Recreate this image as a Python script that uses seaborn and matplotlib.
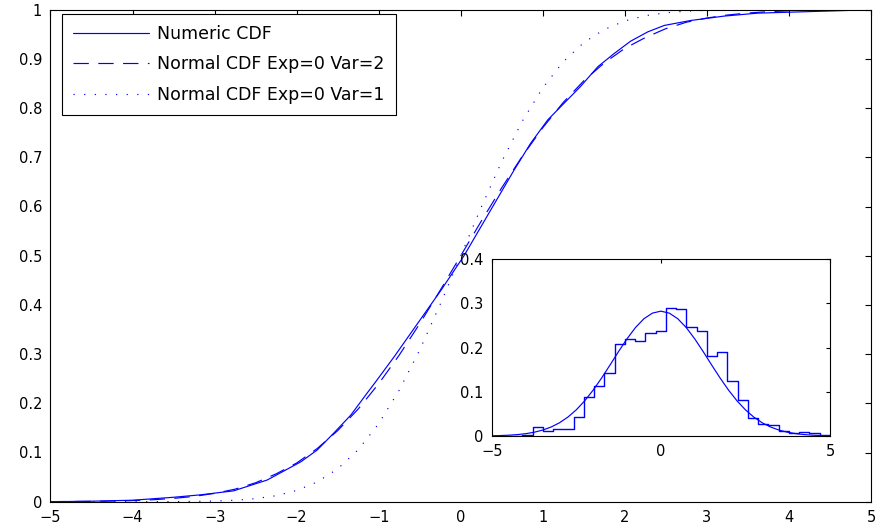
import numpy as np
import pandas as pd
import matplotlib
matplotlib.use("Agg")
import matplotlib.pyplot as plt
from matplotlib.ticker import FuncFormatter
import seaborn as sns

# x grid for the tabulated curves
x_grid = np.arange(-5, 5.001, 0.25)

# Normal CDF, Exp=0 Var=2
cdf_var2 = [0.0002, 0.0004, 0.0007, 0.0013, 0.0023, 0.0040, 0.0067, 0.0108, 0.0169, 0.0255,
            0.0385, 0.0566, 0.0786, 0.1080, 0.1444, 0.1883, 0.2398, 0.2979, 0.3618, 0.4298,
            0.5,
            0.5702, 0.6382, 0.7021, 0.7602, 0.8117, 0.8556, 0.8920, 0.9214, 0.9434, 0.9615,
            0.9745, 0.9831, 0.9892, 0.9933, 0.9960, 0.9977, 0.9987, 0.9993, 0.9996, 0.9998]

# Normal CDF, Exp=0 Var=1
cdf_var1 = [0.0, 0.0, 0.0, 0.0, 0.0, 0.0001, 0.0002, 0.0006, 0.0013, 0.0030,
            0.0062, 0.0122, 0.0228, 0.0401, 0.0668, 0.1056, 0.1587, 0.2266, 0.3085, 0.4013,
            0.5,
            0.5987, 0.6915, 0.7734, 0.8413, 0.8944, 0.9332, 0.9599, 0.9772, 0.9878, 0.9938,
            0.9970, 0.9987, 0.9994, 0.9998, 0.9999, 1.0, 1.0, 1.0, 1.0, 1.0]

num_x = [-5, -4.5, -4, -3.5, -3.17, -2.77, -2.36, -1.95, -1.75, -1.55, -1.34, -1.14, -1.04,
         -0.81, -0.24, 0.04, 0.45, 0.65, 0.85, 1.06, 1.26, 1.46, 1.67, 1.87, 2.07, 2.28,
         2.48, 2.8, 3.21, 3.62, 4.02, 4.63, 5]
num_cdf = [0, 0.001, 0.003, 0.009, 0.014, 0.022, 0.044, 0.081, 0.105, 0.139, 0.176, 0.221,
           0.243, 0.295, 0.430, 0.50, 0.617, 0.674, 0.728, 0.776, 0.810, 0.844, 0.884, 0.911,
           0.936, 0.955, 0.968, 0.978, 0.987, 0.993, 0.995, 0.998, 1.0]

# inset: histogram (density) of the sample, 33 bins on [-5, 5]
hist_heights = [0.0, 0.0, 0.001, 0.003, 0.021, 0.012, 0.015, 0.016, 0.043, 0.089, 0.114,
                0.143, 0.207, 0.220, 0.214, 0.232, 0.238, 0.290, 0.287, 0.247, 0.237, 0.180,
                0.190, 0.124, 0.081, 0.040, 0.027, 0.025, 0.012, 0.006, 0.008, 0.006, 0.003]

# inset: normal pdf Exp=0 Var=2
pdf_var2 = [0.0005, 0.0010, 0.0018, 0.0031, 0.0052, 0.0084, 0.0132, 0.0201, 0.0297, 0.0426,
            0.0591, 0.0796, 0.1038, 0.1312, 0.1607, 0.1909, 0.2197, 0.2451, 0.2650, 0.2777,
            0.2821,
            0.2777, 0.2650, 0.2451, 0.2197, 0.1909, 0.1607, 0.1312, 0.1038, 0.0796, 0.0591,
            0.0426, 0.0297, 0.0201, 0.0132, 0.0084, 0.0052, 0.0031, 0.0018, 0.0010, 0.0005]

sns.set_style("white")
plt.rcParams['font.family'] = ['DejaVu Sans']
plt.rcParams['text.color'] = 'black'
plt.rcParams['xtick.direction'] = 'in'
plt.rcParams['ytick.direction'] = 'in'
plt.rcParams['xtick.top'] = True
plt.rcParams['ytick.right'] = True
plt.rcParams['axes.edgecolor'] = 'black'
plt.rcParams['axes.linewidth'] = 0.8

blue = '#0000ff'
lw = 0.85
tick_fs = 10.5

fig = plt.figure(figsize=(8.78, 5.27), dpi=100)
ax = fig.add_axes([50.5/878, 1 - 501.7/527, (871 - 50.5)/878, (501.7 - 9.7)/527])

sns.lineplot(x=num_x, y=num_cdf, ax=ax, color=blue, lw=lw, label='Numeric CDF')
sns.lineplot(x=x_grid, y=cdf_var2, ax=ax, color=blue, lw=lw, linestyle=(0, (13, 8)),
             label='Normal CDF Exp=0 Var=2')
sns.lineplot(x=x_grid, y=cdf_var1, ax=ax, color=blue, lw=lw, linestyle=(0, (1, 8)),
             label='Normal CDF Exp=0 Var=1')

ax.set_xlim(-5, 5)
ax.set_ylim(0, 1)
ax.set_xticks(np.arange(-5, 6, 1))
ax.set_yticks(np.arange(0, 1.01, 0.1))
fmt = FuncFormatter(lambda v, p: ('%g' % round(v, 2)).replace('-', '\u2212'))
ax.xaxis.set_major_formatter(fmt)
ax.yaxis.set_major_formatter(fmt)
ax.tick_params(axis='both', length=4, width=0.8, labelsize=tick_fs, colors='black')
ax.tick_params(axis='y', pad=6)
ax.tick_params(axis='x', pad=6)
for s in ax.spines.values():
    s.set_visible(True)
    s.set_color('black')

leg = ax.legend(loc='upper left', bbox_to_anchor=(62/878, 1 - 14/527),
                bbox_transform=fig.transFigure, borderaxespad=0, fontsize=12.5,
                handlelength=4.4, handletextpad=0.46, labelspacing=0.72, borderpad=0.63,
                fancybox=False, framealpha=1, edgecolor='black')
leg.get_frame().set_linewidth(0.8)
for t in leg.get_texts():
    t.set_color('black')

# inset
axin = fig.add_axes([491.7/878, 1 - 436/527, (830 - 491.7)/878, (436 - 259)/527])
axin.set_facecolor('white')
nbins = len(hist_heights)
bin_w = 10 / nbins
centers = [-5 + bin_w * (i + 0.5) for i in range(nbins)]
hist_df = pd.DataFrame({'x': centers, 'h': hist_heights})
sns.histplot(data=hist_df, x='x', weights='h', bins=nbins, binrange=(-5, 5),
             element='step', fill=False, color=blue, lw=1.0, ax=axin)
sns.lineplot(x=x_grid, y=pdf_var2, ax=axin, color=blue, lw=lw)
axin.set_xlim(-5, 5)
axin.set_ylim(0, 0.4)
axin.set_xticks([-5, 0, 5])
axin.set_yticks([0, 0.1, 0.2, 0.3, 0.4])
axin.xaxis.set_major_formatter(fmt)
axin.yaxis.set_major_formatter(fmt)
axin.set_xlabel('')
axin.set_ylabel('')
axin.tick_params(axis='both', length=3, width=0.8, labelsize=tick_fs, colors='black')
axin.tick_params(axis='y', pad=6)
axin.tick_params(axis='x', pad=6)
for s in axin.spines.values():
    s.set_visible(True)
    s.set_color('black')

fig.savefig('out.png', dpi=100)
